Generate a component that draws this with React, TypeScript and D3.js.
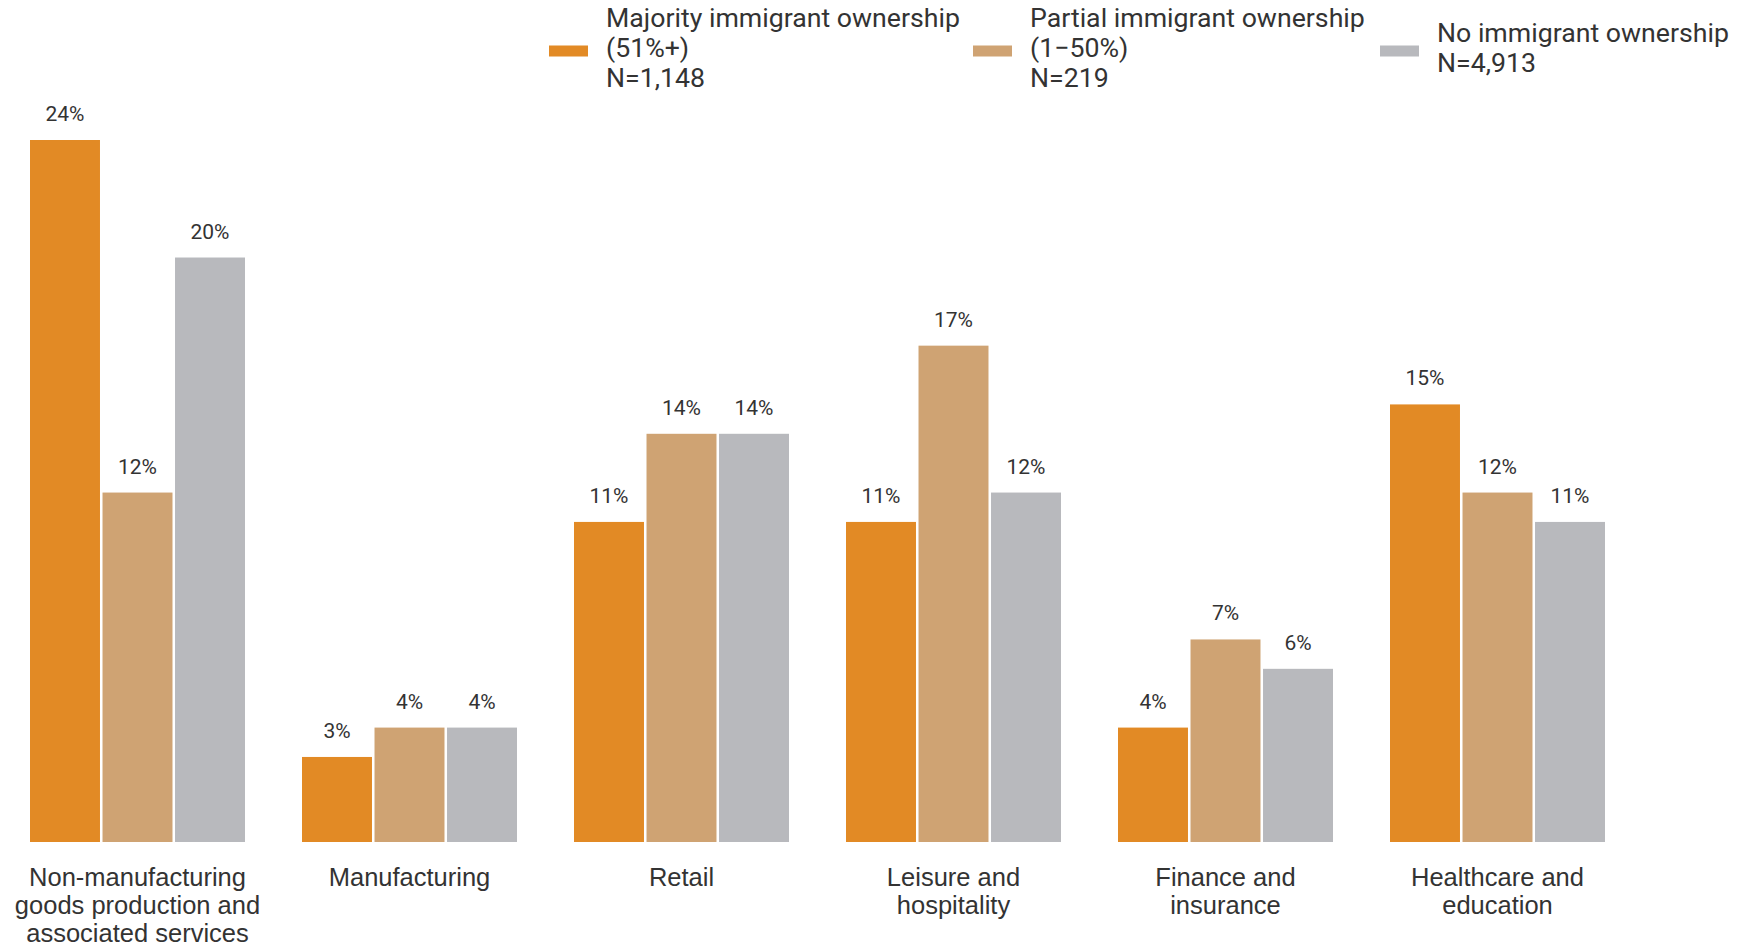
import React from "react";
import * as d3 from "d3";

const categories = [
  ["Non-manufacturing", "goods production and", "associated services"],
  ["Manufacturing"],
  ["Retail"],
  ["Leisure and", "hospitality"],
  ["Finance and", "insurance"],
  ["Healthcare and", "education"],
];
const categoryKeys = ["nonmfg", "mfg", "retail", "leisure", "finance", "health"];
const seriesKeys = ["majority", "partial", "none"];
const seriesLabels = [
  ["Majority immigrant ownership", "(51%+)", "N=1,148"],
  ["Partial immigrant ownership", "(1\u221250%)", "N=219"],
  ["No immigrant ownership", "N=4,913"],
];
const majority = [24, 3, 11, 11, 4, 15];
const partial = [12, 4, 14, 17, 7, 12];
const none = [20, 4, 14, 12, 6, 11];
const colors = ["#E28A25", "#CFA373", "#B8B9BD"];

const W = 1742;
const H = 947;
const PLOT_BOTTOM = 842;

export default function App() {
  const values = [majority, partial, none];
  const x0 = d3.scaleBand<string>().domain(categoryKeys).range([30, 30 + 272 * (6 - 57 / 272)]).paddingInner(57 / 272).paddingOuter(0);
  const x1 = d3.scaleBand<string>().domain(seriesKeys).range([0, x0.bandwidth()]).paddingInner(0.035);
  const y = d3.scaleLinear().domain([0, 24]).range([845.1, 140]);
  const legendX = [549, 973, 1380];
  const textColor = "#333333";

  return (
    <svg width={W} height={H} style={{ position: "absolute", left: 0, top: 0, background: "#fff" }}>
      {categoryKeys.map((c, ci) => (
        <g key={c} transform={`translate(${x0(c)},0)`}>
          {seriesKeys.map((s, si) => {
            const v = values[si][ci];
            const bx = x1(s)!;
            return (
              <g key={s}>
                <rect x={bx} y={y(v)} width={x1.bandwidth()} height={PLOT_BOTTOM - y(v)} fill={colors[si]} />
                <text
                  x={bx + x1.bandwidth() / 2}
                  y={y(v) - 19}
                  textAnchor="middle"
                  fontFamily="Roboto"
                  fontSize={21}
                  fill={textColor}
                >
                  {`${v}%`}
                </text>
              </g>
            );
          })}
          {categories[ci].map((line, li) => (
            <text
              key={li}
              x={x0.bandwidth() / 2}
              y={886 + li * 27.8}
              textAnchor="middle"
              fontFamily="Liberation Sans, Arial"
              fontSize={25.5}
              fill={textColor}
            >
              {line}
            </text>
          ))}
        </g>
      ))}
      {seriesLabels.map((lines, si) => {
        const n = lines.length;
        const startCenter = 47.8 - ((n - 1) * 30) / 2;
        return (
          <g key={si}>
            <rect x={legendX[si]} y={45.5} width={39} height={11} fill={colors[si]} />
            {lines.map((l, li) => (
              <text
                key={li}
                x={legendX[si] + 57}
                y={startCenter + li * 30 + 9}
                fontFamily="Roboto"
                fontSize={26.7}
                fill={textColor}
              >
                {l}
              </text>
            ))}
          </g>
        );
      })}
    </svg>
  );
}
